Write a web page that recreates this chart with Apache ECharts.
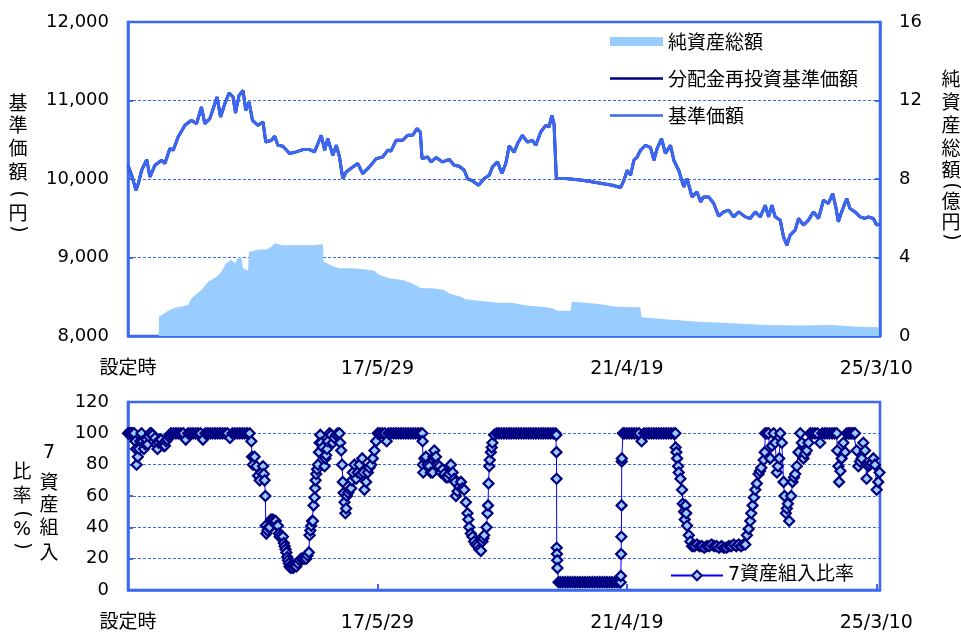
<!DOCTYPE html>
<html><head><meta charset="utf-8">
<script src="https://cdn.jsdelivr.net/npm/echarts/dist/echarts.min.js"></script>
<style>html,body{margin:0;padding:0;background:#fff}#c{width:961px;height:633px}</style>
</head><body><div id="c"></div>
<script>
// x values are weeks since fund setup (設定時); ticks every 203 weeks
const xTickLabels = ['設定時', '17/5/29', '21/4/19', '25/3/10'];
const xTickWeeks = 203;
const xMaxWeeks = 612;

const navTicksLeft = [8000, 12000, 1000];
const assetTicksRight = [0, 16, 4];
const ratioTicks = [0, 120, 20];

// 基準価額 (円) : [week, value]
const navData = [
[0,10175],[3,10048],[6.5,9857],[8.4,9942],[11.1,10111],[15.2,10248],[17.9,10026],[21.9,10175],[27.4,10239],[30,10197],[34.1,10388],[36.8,10366],[40.8,10535],[46.3,10684],[51.7,10748],[55.8,10705],[59.8,10917],[62.5,10705],[66.6,10769],[69.3,10896],[72.5,11044],[75.3,10790],[78.8,10960],[82.3,11095],[85.5,11044],[87.5,10840],[90.4,11066],[93.6,11129],[95.8,10875],[98.5,10981],[101.3,10748],[105.8,10684],[109.9,10726],[112.1,10471],[116.7,10493],[119.4,10544],[122,10430],[126.1,10417],[131.5,10324],[137,10345],[142.3,10375],[147.8,10375],[151.8,10345],[155.1,10471],[157.3,10557],[160,10366],[162.6,10514],[166.7,10302],[169.5,10430],[172.1,10281],[174.8,10006],[177.6,10090],[183,10154],[187,10197],[191,10069],[196.5,10154],[202,10260],[207.3,10281],[211.4,10366],[214.1,10357],[218.2,10493],[223.5,10493],[227.6,10557],[231.7,10557],[235.2,10642],[237.9,10599],[239.3,10260],[243.8,10281],[246.6,10218],[250.7,10273],[256,10218],[261.5,10248],[265.5,10175],[269.6,10162],[273.6,10111],[276.3,10006],[280.4,9975],[285.3,9921],[289.9,10006],[294,10048],[296.6,10154],[300.7,10218],[304.3,10069],[307.5,10200],[310.2,10420],[314.3,10340],[317,10451],[321,10557],[325.1,10471],[329.1,10493],[331.9,10430],[335.9,10599],[340,10684],[342.7,10663],[344.9,10811],[346.7,10705],[348.6,10006],[356.2,10006],[369.7,9984],[383.3,9950],[394.1,9921],[400.9,9891],[403.6,9984],[406.3,10111],[409,10048],[411.7,10239],[414.4,10281],[417.1,10366],[421.2,10430],[425.3,10400],[428,10239],[430.6,10388],[434.2,10514],[437.4,10324],[441.5,10430],[444.2,10239],[448.2,10111],[452.3,9899],[455,10006],[459,9772],[463.1,9836],[465.9,9709],[468.5,9772],[472.6,9772],[476.7,9688],[480.7,9526],[484.8,9581],[488.8,9603],[492.9,9518],[497,9581],[502.4,9518],[506.4,9497],[510.5,9581],[514.6,9518],[518.6,9666],[521.3,9518],[524,9666],[526.7,9518],[530.8,9476],[533.5,9263],[536.2,9157],[538.9,9285],[543,9348],[545.7,9497],[549.7,9412],[553.8,9476],[557.9,9581],[562,9497],[566,9730],[570,9688],[573.5,9815],[576,9645],[578.1,9454],[580.8,9581],[584.9,9751],[587.6,9624],[591.7,9581],[595.8,9518],[599.8,9497],[602.5,9518],[606.6,9497],[609.3,9412],[611,9430]
];
// 分配金再投資基準価額 : coincides with 基準価額 in the picture
const reinvestNavData = navData;

// 純資産総額 (億円) : [week, value]
const netAssets = [
[0,0],[25,0],[25.3,0.98],[31.4,1.24],[36.8,1.41],[49,1.58],[51.7,1.92],[59.8,2.34],[65.2,2.76],[72,3.02],[76,3.27],[79.6,3.70],[84.2,3.90],[86.9,3.70],[89.6,4.01],[92.3,4.04],[93.6,3.45],[97.7,3.32],[98.5,4.29],[107.2,4.41],[112.6,4.41],[116.7,4.55],[119.4,4.72],[126.1,4.63],[139.7,4.63],[150.5,4.62],[158.6,4.68],[159.2,3.78],[162.6,3.70],[166.7,3.56],[172.1,3.45],[183,3.45],[193.8,3.39],[200.5,3.32],[204.6,3.11],[212.7,2.94],[223.5,2.85],[231.6,2.68],[238.4,2.43],[247.8,2.43],[257.3,2.34],[261.5,2.17],[270.9,2.00],[275,1.87],[285.8,1.80],[302,1.68],[312.8,1.70],[323.7,1.55],[337.2,1.49],[345.3,1.41],[349.4,1.29],[360.2,1.29],[361,1.75],[372.4,1.70],[383.2,1.63],[396.8,1.49],[417,1.46],[417.9,0.95],[437.4,0.85],[464.5,0.73],[491.5,0.65],[518.6,0.56],[545.7,0.54],[572.7,0.56],[594.4,0.47],[611,0.44]
];

// 7資産組入比率 (%) : [week, value]
const ratio7 = [
[0,100],[1,100],[2,100],[3,100],[4,100],[5,100],[6,95],[6.5,90],[7,80],[8,85],[9,90],[10,95],[11,100],[12,95],[13,90],[14,93],[15,96],[16,93],[17,98],[18,100],[19,100],[20,99],[21,95],[22,97],[23,93],[24,90],[25,94],[26,96],[27,96],[28,93],[29,92],[30,92],[31,95],[32,96],[33,98],[34,99],[35,100],
[37,100],[39,100],[41,100],[43,100],[45,100],[47,96],[49,100],[51,100],[53,100],[55,100],[57,100],[59,100],[61,96],[63,100],[65,100],[67,100],[69,100],[71,100],[73,100],[75,100],[77,100],[79,100],[81,100],[83,97],[85,100],[87,100],[89,100],[91,100],[93,100],[95,100],[97,100],[99,100],
[100.4,95],[101,85],[101.7,80],[103.1,85],[104.5,79],[105.8,73],[107.2,70],[108.5,75],[109.9,79],[110.5,74],[111.2,70],[111.8,60],[112.1,41],[112.6,36],[113.5,38],[114.4,40],[115.3,40],[116.4,45],[117.2,44],[118,45],[119,44],[120.2,44],[121.1,41],[122,41],[122.8,36],[123.4,34],[124.8,35],[126.1,34],[126.8,30],[127.5,28],[128.2,26],[128.9,24],[129.6,21],[130.2,19],[130.9,17],[131.5,15],[132.4,14],[133.3,15],[134.3,14],[135.6,15],[137,15],[138.3,17],[139.7,19],[141,20],[142.4,20],[143.7,20],[145.1,20],[146.1,22],[147.2,24],[147.8,35],[148.4,38],[149.1,41],[149.8,44],[150.5,44],[151,54],[151.8,59],[152.3,65],[152.7,70],[153.2,74],[153.9,77],[154.6,80],[155.4,88],[156,94],[156.5,99],[157.3,94],[158.6,91],[160,79],[160.6,84],[161.3,86],[162,90],[162.7,95],[164,100],[165.3,99],[166.7,94],[168,97],[169.4,99],[170.7,100],[172.1,100],[172.7,94],[173.5,89],[174.3,80],[174.8,69],[175.5,62],[176.2,56],[176.9,49],[177.5,52],[178.1,60],[179.2,62],[180.3,64],[181.6,65],[182.3,70],[183,75],[184.3,80],[185.7,71],[187,75],[188.4,80],[189.5,74],[190.6,84],[191.5,75],[192.4,64],[193.8,69],[195.2,75],[196.5,78],[197.9,80],[199.2,84],[200.6,89],[201.9,95],[203.3,100],
[205,100],[207,100],[209,100],[210.5,95],[212,100],[214,100],[216,100],[218,100],[220,100],[222,100],[224,100],[226,100],[228,100],[230,100],[232,100],[234,100],[236,100],[238,100],[239.5,100],
[239.8,95],[240,80],[240.3,75],[241.2,84],[242.5,85],[243.9,80],[245.2,79],[246.5,75],[247.9,75],[248.6,85],[249.3,89],[250.6,85],[252,80],[253.4,79],[254.7,75],[256,77],[257.4,74],[258.8,72],[260.2,72],[261.5,74],[262.8,80],[264.2,75],[265.5,71],[266.2,69],[266.9,60],[268.2,63],[269.6,66],[271,69],[272.3,65],[273.6,64],[275,56],[276.3,49],[277,45],[277.7,40],[279,36],[280.4,34],[281.7,31],[283.1,29],[284.5,28],[285.8,26],[287.2,25],[288.5,31],[289.2,33],[289.9,35],[291.8,40],[292.6,49],[293,54],[293.4,68],[294,79],[294.4,83],[295.3,88],[296,91],[296.6,94],[298,99],
[300,100],[302,100],[304,100],[306,100],[308,100],[310,100],[312,100],[314,100],[316,100],[318,100],[320,100],[322,100],[324,100],[326,100],[328,100],[330,100],[332,100],[334,100],[336,100],[338,100],[340,100],[342,100],[344,100],[346,100],[348,100],
[348.6,99],[348.7,88],[348.8,71],[348.9,27],[349.1,23],[349.3,19],[349.5,14],[350.4,5],[352,5],[354,5],[356,5],[358,5],[360,5],[362,5],[364,5],[366,5],[368,5],[370,5],[372,5],[374,5],[376,5],[378,5],[380,5],[382,5],[384,5],[386,5],[388,5],[390,5],[392,5],[394,5],[396,5],[398,5],[400,5],[400.9,5],
[401.1,9],[401.3,23],[401.5,34],[401.7,54],[401.8,82],[401.9,84],[402.8,100],[404,100],[406,100],[408,100],[410,100],[412,100],[414,100],[416,100],[418,95],[420,100],[422,100],[424,100],[426,100],[428,100],[430,100],[432,100],[434,100],[436,100],[438,100],[440,100],[442,100],[444,100],
[445.5,100],[445.7,91],[446.3,88],[446.9,84],[447.7,79],[448.2,75],[449.6,71],[450.9,64],[451.5,55],[452.5,50],[453.1,45],[453.7,54],[454.3,49],[455,41],[456.4,35],[457.7,31],[459.1,28],[461,28],[463,29],[465,28],[467,28],[469,27],[471,28],[473,28],[475,29],[477,28],[479,28],[481,27],[483,28],[485,27],[487,27],[489,28],[491,28],[493,29],[495,28],[497,29],[499,28],[501,29],[502.4,29],
[503.7,35],[505.1,39],[506.4,44],[507.2,49],[508.3,54],[509.4,59],[510.5,64],[511.8,68],[513.2,74],[514.3,76],[515.4,78],[517.3,83],[518.2,88],[518.6,100],[520,100],[521.3,100],[522.7,84],[524,92],[525.4,100],[526.7,94],[528.1,75],[528.9,79],[530,84],[530.8,100],[532.1,94],[533.5,69],[534.3,60],[535.4,49],[536.2,52],[537,55],[538.1,44],[539.7,60],[540.8,69],[542,72],[543,74],[544.3,79],[545.7,88],[547.1,100],[548.4,94],[549.7,84],[551,87],[552.4,89],[553.8,94],[555.2,100],[557,100],[559,100],[561,100],[563.3,94],[565,100],[567,100],[569,100],[571,100],[573,100],[575,100],[576.8,100],
[577.2,89],[578.2,79],[578.7,69],[579.8,76],[580.8,84],[582.2,94],[583.6,88],[584.9,100],[586.3,100],[587.6,100],[589,100],[590.4,100],[591.7,100],[593,89],[594.4,79],[595.7,82],[597.1,84],[598.4,94],[599.8,89],[601.1,71],[602.5,79],[603.8,80],[605.2,81],[606.6,84],[607.9,80],[609.3,64],[610.6,69],[611.6,75]
];

const BLUE = '#3a68f2';
const NAVY = '#000080';
const FONT = '"DejaVu Sans", "Noto Sans CJK JP", sans-serif';
const CJK = '"Noto Sans CJK JP", sans-serif';
// thin horizontal bar inside a 53x9 box, used as a plain line legend icon
const LINE_ICON = 'path://M0,0h0.01v0.01h-0.01z M0,3.2h53v2.6h-53z M0,8.99h0.01v0.01h-0.01z';

function xLabel(v) {
  const i = Math.round(v / xTickWeeks);
  if (Math.abs(v - i * xTickWeeks) < 0.01 && i >= 0 && i < xTickLabels.length) return xTickLabels[i];
  return '';
}
function xAxisFor(g) {
  return {
    type: 'value', gridIndex: g, min: 0, max: xMaxWeeks, interval: xTickWeeks,
    axisLine: { show: true, onZero: false, lineStyle: { color: BLUE, width: 2.5 } },
    axisTick: { show: true, inside: true, length: 6, lineStyle: { color: BLUE, width: 2 } },
    axisLabel: { color: '#000', fontSize: 19, fontFamily: FONT, margin: 24, formatter: xLabel, showMinLabel: true, showMaxLabel: true },
    splitLine: { show: false }
  };
}
const gridSplit = { show: true, lineStyle: { color: BLUE, type: [3, 2], width: 1 } };
function yAxisFor(g, t, pos, split, fmt) {
  return {
    type: 'value', gridIndex: g, position: pos, min: t[0], max: t[1], interval: t[2],
    axisLine: { show: true, lineStyle: { color: BLUE, width: 2.5 } },
    axisTick: { show: true, inside: true, length: 5, lineStyle: { color: BLUE, width: 2 } },
    axisLabel: { color: '#000', fontSize: 18, fontFamily: FONT, margin: 19, formatter: fmt },
    splitLine: split ? gridSplit : { show: false }
  };
}

// vertical column text, one element per character; parentheses drawn rotated
function vcol(x, items, size) {
  return items.map(function (it) {
    const ch = it[0];
    const paren = (ch === '(' || ch === ')');
    return {
      type: 'text', x: x, y: it[1], z: 100,
      rotation: paren ? -Math.PI / 2 : 0,
      style: { text: ch, fill: '#000', font: (size || 19) + 'px ' + (paren || ch === '%' || ch === '7' ? FONT : CJK),
        align: 'center', verticalAlign: 'middle', textAlign: 'center', textVerticalAlign: 'middle' }
    };
  });
}

const chart = echarts.init(document.getElementById('c'), null, { renderer: 'canvas' });
chart.setOption({
  animation: false,
  backgroundColor: '#fff',
  grid: [
    { left: 128, top: 22, width: 752, height: 314, show: true, borderColor: BLUE, borderWidth: 2.5, backgroundColor: 'transparent' },
    { left: 128, top: 402, width: 752, height: 190, show: true, borderColor: BLUE, borderWidth: 2.5, backgroundColor: 'transparent' }
  ],
  xAxis: [xAxisFor(0), xAxisFor(1)],
  yAxis: [
    yAxisFor(0, navTicksLeft, 'left', true, function (v) { return v.toLocaleString('en-US'); }),
    yAxisFor(0, assetTicksRight, 'right', false),
    yAxisFor(1, ratioTicks, 'left', true)
  ],
  legend: [
    {
      orient: 'vertical', left: 610, top: 32, padding: 0, itemWidth: 53, itemHeight: 9, itemGap: 18,
      textStyle: { color: '#000', fontSize: 19, fontFamily: CJK },
      data: [{ name: '純資産総額', icon: 'rect' }, { name: '分配金再投資基準価額', icon: LINE_ICON }, { name: '基準価額', icon: LINE_ICON }]
    },
    {
      left: 670, top: 566, padding: 0, itemWidth: 52, itemHeight: 12,
      textStyle: { color: '#000', fontSize: 19, fontFamily: FONT },
      data: ['7資産組入比率']
    }
  ],
  series: [
    {
      name: '純資産総額', type: 'line', xAxisIndex: 0, yAxisIndex: 1, data: netAssets,
      symbol: 'none', lineStyle: { width: 0, color: '#99ccff' }, itemStyle: { color: '#99ccff' },
      areaStyle: { color: '#99ccff', opacity: 1 }, z: 1
    },
    {
      name: '分配金再投資基準価額', type: 'line', xAxisIndex: 0, yAxisIndex: 0, data: reinvestNavData,
      symbol: 'none', lineStyle: { width: 3, color: NAVY }, itemStyle: { color: NAVY }, z: 2
    },
    {
      name: '基準価額', type: 'line', xAxisIndex: 0, yAxisIndex: 0, data: navData,
      symbol: 'none', lineStyle: { width: 3, color: BLUE }, itemStyle: { color: BLUE }, z: 3
    },
    {
      name: '7資産組入比率', type: 'line', xAxisIndex: 1, yAxisIndex: 2, data: ratio7,
      symbol: 'diamond', symbolSize: 10, showAllSymbol: true,
      lineStyle: { width: 1, color: '#0000ff' },
      itemStyle: { color: '#99ccff', borderColor: NAVY, borderWidth: 2.2 }, z: 3
    }
  ],
  graphic: [].concat(
    vcol(18, [['基', 103], ['準', 125], ['価', 148], ['額', 172], ['(', 194], ['円', 213], [')', 229]]),
    vcol(951, [['純', 79], ['資', 102], ['産', 125], ['総', 148], ['額', 170], ['(', 186], ['億', 201], ['円', 222], [')', 237]]),
    vcol(49, [['7', 453], ['資', 482], ['産', 504], ['組', 527], ['入', 552]]),
    vcol(22, [['比', 471], ['率', 495], ['(', 514], ['%', 530], [')', 546]])
  )
});
</script>
</body></html>
